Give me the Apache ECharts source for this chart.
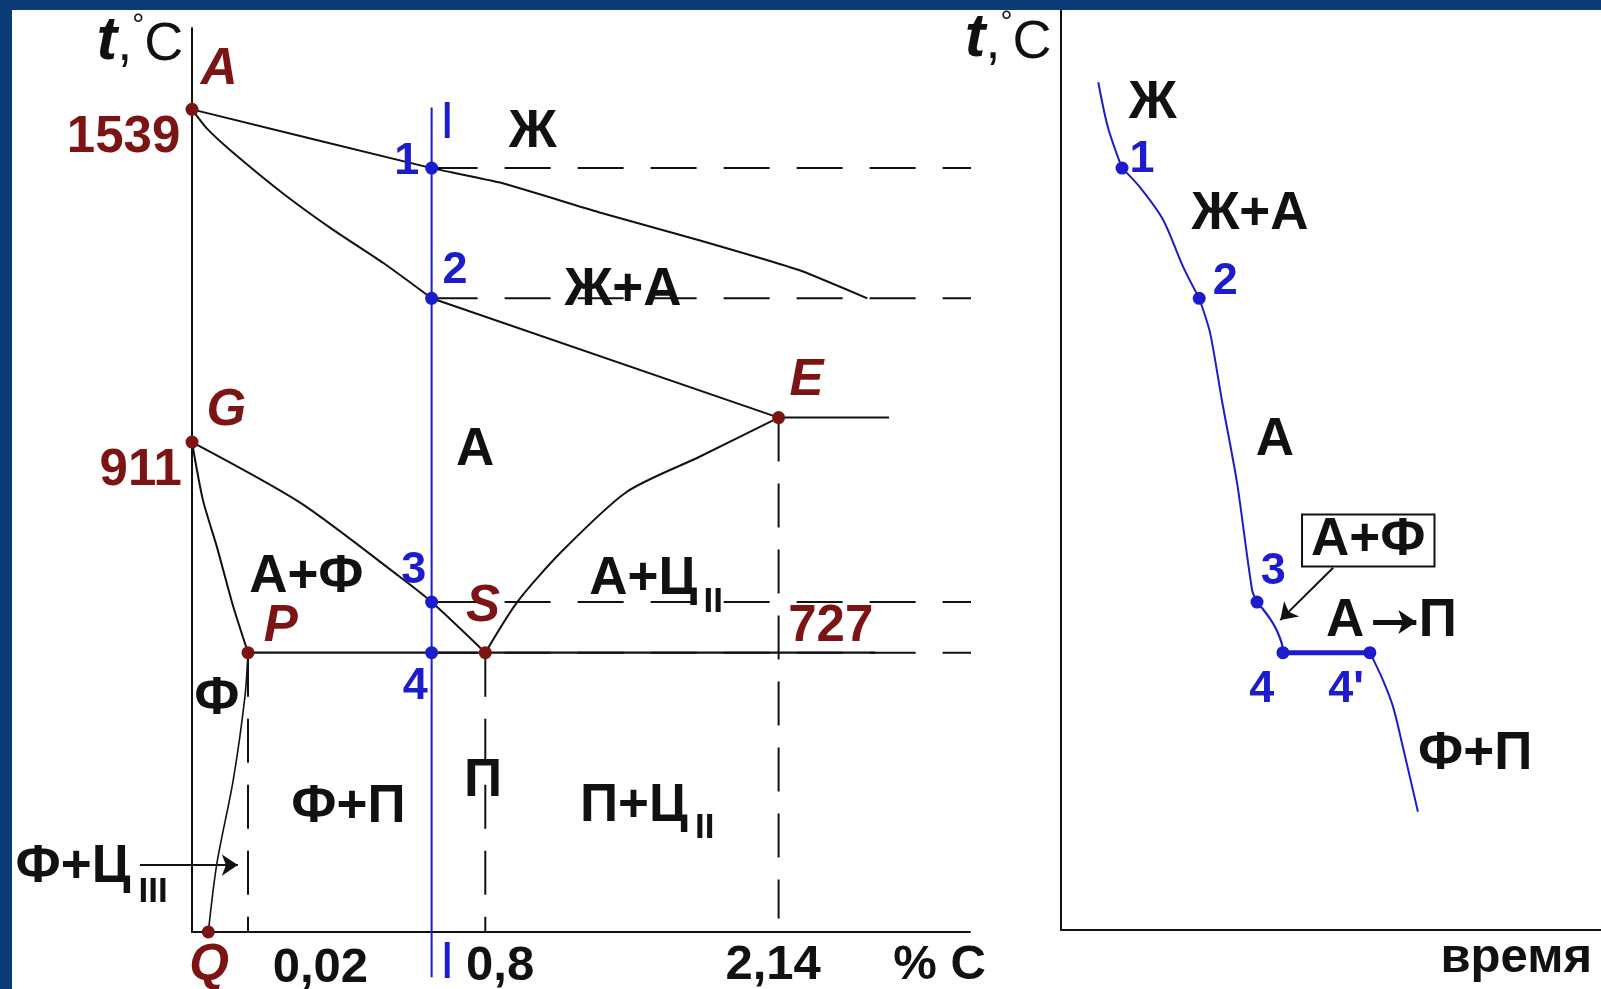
<!DOCTYPE html>
<html>
<head>
<meta charset="utf-8">
<title>Fe–Fe3C: сталь 0,5 % C</title>
<script src="https://cdn.jsdelivr.net/npm/echarts@6/dist/echarts.min.js"></script>
<style>
  html, body { margin: 0; padding: 0; background: #0b3c78; }
  #main { width: 1601px; height: 989px; }
</style>
</head>
<body>
<div id="main"></div>
<script>
// ---- Left panel: steel corner of the Fe–Fe3C diagram (schematic units 0–100) ----
// x: schematic carbon content, y: schematic temperature
const liquidus   = [[0, 91.0], [30.8, 84.5], [39.6, 82.9], [52.4, 79.6], [65.3, 76.5], [78.1, 73.2], [86.8, 70.1]];
const solidusAE  = [[0, 91.0], [1.9, 88.9], [5.3, 86.2], [11.7, 81.7], [18.1, 77.7], [24.6, 74.0], [30.8, 70.1]];
const solidusE   = [[30.8, 70.1], [75.4, 56.9]];
const lineEF     = [[75.4, 56.9], [89.6, 56.9]];
const lineGS     = [[0, 54.2], [13.9, 47.5], [26.7, 39.3], [30.8, 36.5], [37.7, 30.9]];
const lineGP     = [[0, 54.2], [1.4, 47.8], [3.2, 42.6], [5.3, 36.0], [7.2, 30.9]];
const lineSE     = [[37.7, 30.9], [41.8, 36.5], [47.3, 41.9], [55.9, 48.7], [65.3, 52.6], [75.4, 56.9]];
const linePQ     = [[7.2, 30.9], [6.8, 26.0], [5.3, 16.8], [3.2, 7.6], [2.1, 0]];
const linePSK    = [[7.2, 30.9], [87.8, 30.9]];
const dropP      = [[7.2, 30.9], [7.2, 0]];
const dropS      = [[37.7, 30.9], [37.7, 0]];
const dropE      = [[75.4, 56.9], [75.4, 1.5]];
const alloyLine  = [[30.8, 91.2], [30.8, -5.0]];

// named phase points: label, x, y
const phasePoints = [['A', 0, 91.0], ['G', 0, 54.2], ['P', 7.2, 30.9], ['S', 37.7, 30.9], ['E', 75.4, 56.9], ['Q', 2.1, 0]];
// critical points of the alloy I
const alloyPoints = [['1', 30.8, 84.5], ['2', 30.8, 70.1], ['3', 30.8, 36.5], ['4', 30.8, 30.9]];

// ---- Right panel: cooling curve of alloy I (x: time 0–100, y: same temperature scale) ----
const coolSeg1 = [[6.9, 94.0], [8.7, 89.0], [11.3, 84.5]];
const coolSeg2 = [[11.3, 84.5], [14.6, 82.4], [18.9, 78.8], [22.6, 73.6], [25.6, 70.1]];
const coolSeg3 = [[25.6, 70.1], [27.6, 66.3], [29.8, 58.8], [32.6, 49.7], [35.4, 37.8], [36.3, 36.5]];
const coolSeg4 = [[36.3, 36.5], [39.3, 34.1], [40.9, 31.9], [41.1, 30.9]];
const coolArrest = [[41.1, 30.9], [57.2, 30.9]];
const coolSeg5 = [[57.2, 30.9], [59.6, 27.9], [61.5, 24.9], [63.3, 20.5], [66.1, 13.3]];
const coolPoints = [['1', 11.3, 84.5], ['2', 25.6, 70.1], ['3', 36.3, 36.5], ['4', 41.1, 30.9], ["4'", 57.2, 30.9]];

// ---- Text ----
const tempTicks   = [['1539', -1.5, 87.8], ['911', -1.3, 51.0]];
const compTicks   = [['0,02', 16.5, -4.0], ['0,8', 39.6, -3.8], ['2,14', 74.7, -3.7], ['% C', 96.1, -3.7]];
const pointTags   = [['A', 3.5, 95.4], ['G', 4.4, 57.6], ['E', 79.0, 61.0], ['P', 11.4, 33.7], ['S', 37.4, 36.0], ['Q', 2.2, -3.8]];
const eutectoidT  = [['727', 82.1, 33.7]];
const alloyTags   = [['1', 27.6, 85.2], ['2', 33.8, 73.2], ['3', 28.5, 40.0], ['4', 28.7, 27.1]];
const alloyNames  = [['I', 32.8, 89.4], ['I', 32.8, -3.5]];
const phaseFields = [['Ж', 43.8, 88.4], ['Ж+А', 55.4, 71.0], ['А', 36.4, 53.3], ['А+Ф', 14.7, 39.2],
                     ['А+Ц', 58.0, 39.0], ['Ф', 3.2, 25.7], ['Ф+П', 20.1, 13.8], ['П', 37.4, 16.7],
                     ['П+Ц', 56.8, 13.9], ['Ф+Ц', -15.3, 7.1]];
const subscripts  = [['II', 67.0, 36.5], ['II', 65.9, 11.5], ['III', -5.0, 4.4]];
const leftArrows  = [[[-6.7, 7.4], [5.9, 7.4]]];
const axisTitleT  = '{t|t}{c|,}{d|°}{c|C}';

const coolTags    = [['1', 15.0, 85.4], ['2', 30.4, 71.9], ['3', 39.3, 39.9], ['4', 37.2, 26.8], ["4'", 52.8, 26.8]];
const coolFields  = [['Ж', 17.0, 91.7], ['Ж+А', 35.0, 79.4], ['А', 39.6, 54.4], ['А', 52.6, 34.4], ['П', 69.8, 34.4], ['Ф+П', 76.7, 19.7]];
const boxedField  = ['А+Ф', 56.9, 43.3];
const rightArrows = [[[50.4, 40.3], [40.6, 34.5]]];
const transformArrow = [[[57.8, 34.3], [65.8, 34.3]]];
const timeTitle   = ['время', 84.3, -2.9];

// ---- Layout ----
const G0 = { left: 192, top: 28, width: 778, height: 904 };
const G1 = { left: 1061, top: 10, width: 540, height: 920 };
// right temperature axis shares the left one's scale
const tPerPx = 100 / G0.height;
const t1min = ((G0.top + G0.height) - (G1.top + G1.height)) * tPerPx;
const t1max = ((G0.top + G0.height) - G1.top) * tPerPx;

const FONT = 'Liberation Sans, Arial, sans-serif';
const BLACK = '#111111';
const BLUE = '#1c1ccc';
const RED = '#7c1414';

function axisBase(gridIndex, min, max) {
  return {
    type: 'value', gridIndex, min, max,
    axisLine: { show: true, onZero: false, lineStyle: { color: BLACK, width: 2 } },
    axisTick: { show: false }, axisLabel: { show: false }, splitLine: { show: false }
  };
}

function poly(data, ax, style) {
  return Object.assign({
    type: 'line', xAxisIndex: ax, yAxisIndex: ax, data, symbol: 'none',
    silent: true, animation: false, clip: false, z: 3,
    lineStyle: { color: BLACK, width: 2 }
  }, style || {});
}

function dots(points, ax, color) {
  return {
    type: 'scatter', xAxisIndex: ax, yAxisIndex: ax, clip: false, silent: true, animation: false, z: 6,
    symbol: 'circle', symbolSize: 13, itemStyle: { color, opacity: 1 },
    data: points.map(p => [p[1], p[2]])
  };
}

function texts(items, ax, style) {
  return {
    type: 'scatter', xAxisIndex: ax, yAxisIndex: ax, clip: false, silent: true, animation: false, z: 8,
    symbolSize: 0, itemStyle: { opacity: 1 },
    data: items.map(t => ({
      value: [t[1], t[2]],
      label: Object.assign({
        show: true, position: 'inside', formatter: t[0],
        fontFamily: FONT, fontWeight: 'bold', fontSize: 53, color: BLACK,
        align: 'center', verticalAlign: 'middle'
      }, style || {})
    }))
  };
}

function arrows(list, ax, width, size) {
  return {
    type: 'lines', coordinateSystem: 'cartesian2d', xAxisIndex: ax, yAxisIndex: ax,
    silent: true, animation: false, z: 7, polyline: false, clip: false,
    symbol: ['none', 'arrow'], symbolSize: [0, size || 16],
    lineStyle: { color: BLACK, width: width || 2, opacity: 1, curveness: 0 },
    data: list.map(c => ({ coords: c }))
  };
}

const titleRich = {
  t: { fontFamily: FONT, fontStyle: 'italic', fontWeight: 900, fontSize: 62, color: BLACK, lineHeight: 62, verticalAlign: 'bottom' },
  c: { fontFamily: FONT, fontWeight: 'normal', fontSize: 54, color: BLACK, lineHeight: 62, verticalAlign: 'bottom' },
  d: { fontFamily: FONT, fontWeight: 'normal', fontSize: 30, color: BLACK, lineHeight: 62, verticalAlign: 'top' }
};

const dashH = [46, 27];
const dashV = [44, 22];

const series = [
  // phase boundaries
  poly(liquidus, 0, { smooth: 0.12 }),
  poly(solidusAE, 0, { smooth: 0.2 }),
  poly(solidusE, 0),
  poly(lineEF, 0),
  poly(lineGS, 0, { smooth: 0.25 }),
  poly(lineGP, 0, { smooth: 0.25 }),
  poly(lineSE, 0, { smooth: 0.25 }),
  poly(linePQ, 0, { smooth: 0.3, lineStyle: { color: BLACK, width: 1.6 } }),
  poly(linePSK, 0, { lineStyle: { color: BLACK, width: 2.2 } }),
  poly(dropP, 0, { lineStyle: { color: BLACK, width: 2, type: dashV } }),
  poly(dropS, 0, { lineStyle: { color: BLACK, width: 2, type: dashV } }),
  poly(dropE, 0, { lineStyle: { color: BLACK, width: 2, type: dashV } }),
  // alloy I
  poly(alloyLine, 0, { z: 4, lineStyle: { color: BLUE, width: 2 } }),
  dots(phasePoints, 0, RED),
  dots(alloyPoints, 0, BLUE),
  // cooling curve
  poly(coolSeg1, 1, { smooth: 0.3, lineStyle: { color: BLUE, width: 2 } }),
  poly(coolSeg2, 1, { smooth: 0.3, lineStyle: { color: BLUE, width: 2 } }),
  poly(coolSeg3, 1, { smooth: 0.25, lineStyle: { color: BLUE, width: 2 } }),
  poly(coolSeg4, 1, { smooth: 0.4, lineStyle: { color: BLUE, width: 2.2 } }),
  poly(coolArrest, 1, { lineStyle: { color: BLUE, width: 5 } }),
  poly(coolSeg5, 1, { smooth: 0.3, lineStyle: { color: BLUE, width: 2 } }),
  dots(coolPoints, 1, BLUE),
  // text, left panel
  texts(tempTicks, 0, { color: RED, align: 'right', fontSize: 51 }),
  texts(compTicks, 0, { fontSize: 49 }),
  texts(pointTags, 0, { color: RED, fontStyle: 'italic', fontSize: 51 }),
  texts(eutectoidT, 0, { color: RED, fontSize: 51 }),
  texts(alloyTags, 0, { color: BLUE, fontSize: 45 }),
  texts(alloyNames, 0, { color: BLUE, fontWeight: 'normal', fontSize: 52 }),
  texts(phaseFields, 0),
  texts(subscripts, 0, { fontSize: 35 }),
  arrows(leftArrows, 0),
  texts([[axisTitleT, -6.7, 98.5]], 0, { rich: titleRich }),
  // text, right panel
  texts(coolTags, 1, { color: BLUE, fontSize: 45 }),
  texts(coolFields, 1),
  arrows(transformArrow, 1, 5, 18),
  texts([boxedField], 1, { borderColor: BLACK, borderWidth: 2, backgroundColor: '#fff', padding: [1, 8, 1, 8], lineHeight: 48 }),
  arrows(rightArrows, 1),
  texts([timeTitle], 1, { fontSize: 49 }),
  texts([[axisTitleT, -9.8, 98.8]], 1, { rich: titleRich })
];

const option = {
  backgroundColor: '#0b3c78',
  animation: false,
  graphic: [{
    type: 'rect', left: 12, top: 10, z: -10, silent: true,
    shape: { width: 1589, height: 979 }, style: { fill: '#ffffff' }
  }],
  grid: [
    Object.assign({ containLabel: false }, G0),
    Object.assign({ containLabel: false }, G1)
  ],
  xAxis: [axisBase(0, 0, 100), axisBase(1, 0, 100)],
  yAxis: [axisBase(0, 0, 100), axisBase(1, t1min, t1max)],
  series
};

const chart = echarts.init(document.getElementById('main'), null, { renderer: 'canvas' });
chart.setOption(option);

// dashed projections from the alloy line to the cooling curve
alloyPoints.forEach((p, i) => {
  const c = coolPoints[i];
  const px = chart.convertToPixel({ xAxisIndex: 1, yAxisIndex: 1 }, [c[1], c[2]]);
  const end = chart.convertFromPixel({ xAxisIndex: 0, yAxisIndex: 0 }, px);
  series.push(poly([[p[1], p[2]], [end[0], p[2]]], 0, { z: 2, lineStyle: { color: BLACK, width: 2, type: dashH } }));
});
chart.setOption({ series }, { replaceMerge: ['series'] });
</script>
</body>
</html>
